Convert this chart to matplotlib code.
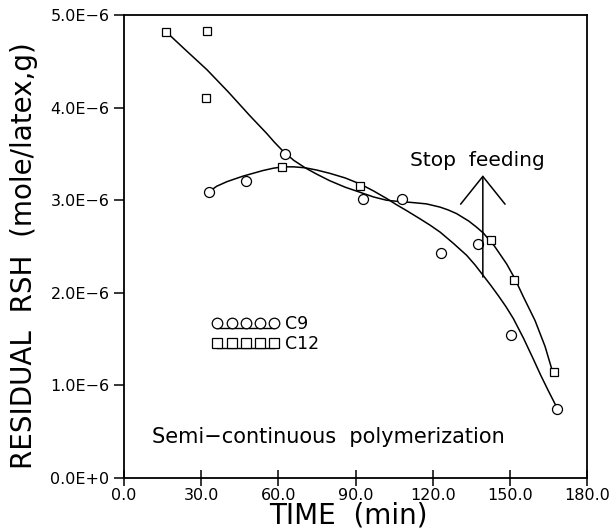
import matplotlib
matplotlib.use("Agg")
import matplotlib.pyplot as plt
from matplotlib.lines import Line2D
from matplotlib.legend_handler import HandlerLine2D, HandlerTuple
from matplotlib.ticker import FuncFormatter

# measured points (time in min, residual RSH in 1e-6 mole/latex,g)
c9_time = [33.0, 47.4, 62.4, 93.0, 108.0, 123.4, 137.8, 150.6, 168.2]
c9_rsh = [3.09, 3.21, 3.50, 3.01, 3.01, 2.43, 2.53, 1.54, 0.75]

c12_time = [16.3, 32.4, 32.0, 61.4, 91.7, 142.6, 151.6, 167.2]
c12_rsh = [4.82, 4.83, 4.10, 3.36, 3.15, 2.57, 2.14, 1.14]

# fitted curves
fit_c9_time = [33.0, 36.0, 40.0, 46.3, 54.0, 58.0, 61.8, 66.0, 70.4, 75.0,
               80.0, 86.0, 91.8, 97.0, 102.0, 106.0, 110.0, 115.0, 119.0,
               122.9, 128.0, 133.2, 136.5, 139.7, 142.6, 145.5, 148.5, 151.4,
               155.3, 159.2, 162.0, 165.0, 168.3]
fit_c9_rsh = [3.09, 3.15, 3.20, 3.26, 3.32, 3.345, 3.36, 3.36, 3.35, 3.325,
              3.29, 3.24, 3.175, 3.10, 3.02, 2.95, 2.885, 2.80, 2.73,
              2.655, 2.535, 2.405, 2.30, 2.185, 2.08, 1.97, 1.85, 1.72,
              1.51, 1.28, 1.11, 0.94, 0.76]

fit_c12_time = [16.3, 24.0, 32.2, 40.5, 49.0, 55.5, 58.5, 61.8, 66.0, 70.4,
                75.0, 80.0, 86.0, 91.8, 97.0, 102.0, 107.0, 112.0, 117.6,
                122.9, 126.0, 129.3, 134.0, 137.0, 139.7, 144.0, 148.8, 152.0,
                155.2, 159.8, 163.7, 166.8]
fit_c12_rsh = [4.82, 4.62, 4.41, 4.17, 3.91, 3.72, 3.625, 3.53, 3.43, 3.35,
               3.28, 3.21, 3.14, 3.085, 3.035, 3.00, 2.985, 2.975, 2.96,
               2.925, 2.895, 2.855, 2.775, 2.71, 2.645, 2.505, 2.31, 2.15,
               1.96, 1.70, 1.42, 1.13]

x_ticks = [0, 30, 60, 90, 120, 150, 180]
y_ticks = [0, 1, 2, 3, 4, 5]

stop_time = 139.5
stop_base = 2.17
stop_tip = 3.27

plt.rcParams['font.family'] = ['DejaVu Sans']

fig = plt.figure(figsize=(6.13, 5.31), dpi=100)
ax = fig.add_axes([0.2023, 0.0998, 0.7553, 0.872])

ax.plot(fit_c9_time, fit_c9_rsh, color='black', lw=1.1)
ax.plot(fit_c12_time, fit_c12_rsh, color='black', lw=1.1)
ax.plot(c9_time, c9_rsh, 'o', ms=7.2, mfc='white', mec='black', mew=0.9)
ax.plot(c12_time, c12_rsh, 's', ms=6.3, mfc='white', mec='black', mew=0.9)

# stop feeding arrow
ax.annotate('', xy=(stop_time, stop_tip), xytext=(stop_time, stop_base),
            arrowprops=dict(arrowstyle='->,head_length=20,head_width=16',
                            mutation_scale=1, lw=1.1, color='black',
                            shrinkA=0, shrinkB=0))
ax.text(stop_time - 2, stop_tip + 0.1, 'Stop  feeding', ha='center',
        va='baseline', fontsize=14.5)

ax.text(10.9, 0.38, 'Semi\u2212continuous  polymerization', ha='left',
        va='baseline', fontsize=15)


# legend: five markers with a line drawn just under them
class LoweredLine(HandlerLine2D):
    def __init__(self, dy, **kw):
        super().__init__(**kw)
        self.dy = dy

    def create_artists(self, legend, orig_handle, xdescent, ydescent,
                       width, height, fontsize, trans):
        return super().create_artists(legend, orig_handle, xdescent,
                                      ydescent + 2 * self.dy, width, height,
                                      fontsize, trans)


mk9 = Line2D([], [], ls='none', marker='o', ms=7.6, mfc='white', mec='black', mew=0.9)
mk12 = Line2D([], [], ls='none', marker='s', ms=6.6, mfc='white', mec='black', mew=0.9)
ln9 = Line2D([], [], color='black', lw=1.0)
ln12 = Line2D([], [], color='black', lw=1.0)
ax.legend([(ln9, mk9), (ln12, mk12)], ['C9', 'C12'],
          handler_map={ln9: LoweredLine(4), ln12: LoweredLine(4),
                       tuple: HandlerTuple(ndivide=1, pad=0)},
          numpoints=5, loc='upper left', bbox_to_anchor=(0.19, 0.352),
          frameon=False, fontsize=12.5, handlelength=3.9, handletextpad=0.3,
          labelspacing=0.1, borderpad=0, borderaxespad=0)

ax.set_xlim(0, 180)
ax.set_ylim(0, 5)
ax.set_xticks(x_ticks)
ax.set_yticks(y_ticks)
ax.xaxis.set_major_formatter(FuncFormatter(lambda v, p: f'{v:.1f}'))
ax.yaxis.set_major_formatter(FuncFormatter(
    lambda v, p: '0.0E+0' if v == 0 else f'{v:.1f}E\u22126'))
ax.tick_params(axis='x', direction='inout', length=12, width=1.1,
               labelsize=11.5, pad=1)
ax.tick_params(axis='y', direction='out', length=7.5, width=1.1,
               labelsize=11.5, pad=3)
for s in ax.spines.values():
    s.set_linewidth(1.3)

ax.set_xlabel('TIME  (min)', fontsize=20)
ax.set_ylabel('RESIDUAL  RSH  (mole/latex,g)', fontsize=20)
ax.xaxis.set_label_coords(0.484, -0.05)
ax.yaxis.set_label_coords(-0.185, 0.48)
ax.xaxis.label.set_va('top')

fig.savefig('out.png', dpi=100)
